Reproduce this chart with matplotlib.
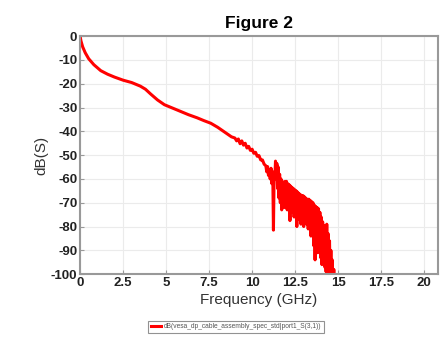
import matplotlib
matplotlib.use('Agg')
import matplotlib.pyplot as plt

# Smooth part of the S(3,1) trace (GHz, dB)
freq_smooth = [0, 0.05, 0.15, 0.3, 0.5, 0.8, 1.2, 1.6, 2.0, 2.5, 3.0, 3.5, 3.8,
               4.1, 4.5, 4.9, 5.3, 5.8, 6.3, 6.8, 7.2, 7.6, 8.0, 8.4, 8.8, 9.0,
               9.1, 9.2, 9.3, 9.4, 9.5, 9.6, 9.7, 9.8, 9.9, 10.0, 10.1, 10.2,
               10.3, 10.4, 10.5, 10.6, 10.7]
db_smooth = [0, -2, -4.5, -7, -9.5, -12, -14.5, -16, -17.2, -18.5, -19.5, -21,
             -22.3, -24.3, -26.8, -28.8, -30, -31.5, -33, -34.3, -35.5, -36.6,
             -38.3, -40.3, -42.3, -42.8, -44.0, -43.2, -45.2, -44.0, -45.8,
             -45.0, -47.0, -46.3, -48.0, -47.5, -49.2, -48.8, -50.5, -50.2,
             -52.0, -52.0, -53.8]

# Resonant, noisy part above ~10.8 GHz
freq_noisy = [10.80, 10.85, 10.90, 10.95, 11.00, 11.05, 11.10, 11.15, 11.20,
              11.24, 11.28, 11.32, 11.36, 11.40, 11.44, 11.48, 11.52, 11.56,
              11.60, 11.64, 11.68, 11.72, 11.76, 11.80, 11.84, 11.88, 11.92,
              11.96, 12.00, 12.04, 12.08, 12.12, 12.16, 12.20, 12.24, 12.28,
              12.32, 12.36, 12.40, 12.44, 12.48, 12.52, 12.56, 12.60, 12.64,
              12.68, 12.72, 12.76, 12.80, 12.84, 12.88, 12.92, 12.96, 13.00,
              13.04, 13.08, 13.12, 13.18, 13.22, 13.26, 13.30, 13.34, 13.38,
              13.42, 13.46, 13.50, 13.54, 13.58, 13.62, 13.66, 13.70, 13.74,
              13.78, 13.82, 13.86, 13.90, 13.94, 13.98, 14.02, 14.06, 14.10,
              14.14, 14.18, 14.22, 14.26, 14.30, 14.34, 14.38, 14.42, 14.46,
              14.50, 14.54, 14.58, 14.62, 14.66, 14.70, 14.75, 14.80, 14.85]
db_noisy = [-54.5, -57.0, -54.8, -58.5, -56.0, -60.0, -55.5, -62.0, -57.0,
            -81.5, -58.0, -60.0, -52.5, -58.0, -53.5, -64.0, -55.0, -68.0,
            -58.0, -70.0, -60.0, -73.0, -61.0, -70.0, -61.5, -72.0, -61.0,
            -71.0, -61.0, -73.0, -62.0, -72.0, -62.5, -77.5, -63.0, -74.0,
            -63.5, -73.0, -64.0, -76.0, -64.5, -75.0, -65.0, -80.0, -65.5,
            -77.0, -66.0, -76.0, -66.5, -79.0, -67.0, -77.0, -67.0, -80.0,
            -67.5, -78.0, -68.0, -79.0, -68.5, -81.0, -68.5, -79.0, -69.0,
            -84.0, -69.5, -83.0, -70.0, -88.0, -71.0, -94.0, -71.5, -88.0,
            -72.0, -91.0, -72.5, -89.0, -74.0, -93.0, -76.0, -96.0, -78.0,
            -94.0, -79.5, -97.0, -80.0, -99.0, -79.0, -101.0, -83.0, -101.0,
            -86.0, -102.0, -90.0, -103.0, -94.0, -104.0, -98.0, -106.0, -105.0]

freq = freq_smooth + freq_noisy
db = db_smooth + db_noisy

x_ticks = [0, 2.5, 5, 7.5, 10, 12.5, 15, 17.5, 20]
x_labels = ['0', '2.5', '5', '7.5', '10', '12.5', '15', '17.5', '20']
y_ticks = list(range(0, -101, -10))

plt.rcParams['font.family'] = ['Liberation Sans', 'DejaVu Sans']
plt.rcParams['axes.unicode_minus'] = False
plt.rcParams['path.simplify'] = False

fig = plt.figure(figsize=(4.45, 3.41), dpi=100)
ax = fig.add_axes([0.180, 0.196, 0.804, 0.698])

line, = ax.plot(freq, db, color='#ff0000', linewidth=2.2,
                label='dB(vesa_dp_cable_assembly_spec_std|port1_S(3,1))')

ax.set_xlim(0, 20.8)
ax.set_ylim(-100, 0)
ax.set_xticks(x_ticks)
ax.set_xticklabels(x_labels)
ax.set_yticks(y_ticks)
ax.grid(True, color='#ebebeb', linewidth=0.8)
ax.set_axisbelow(True)
ax.tick_params(direction='in', length=3, color='#999999', labelsize=9.5,
               labelcolor='#222222', pad=2)
for lbl in ax.get_xticklabels() + ax.get_yticklabels():
    lbl.set_fontweight('semibold')
for sp in ax.spines.values():
    sp.set_color('#999999')
    sp.set_linewidth(1.5)

ax.set_title('Figure 2', fontsize=12.5, fontweight='bold', pad=6)
ax.set_xlabel('Frequency (GHz)', fontsize=11, color='#333333', labelpad=3)
ax.set_ylabel('dB(S)', fontsize=11, color='#333333', labelpad=2)

leg = fig.legend(handles=[line], loc='center', bbox_to_anchor=(0.531, 0.042),
                 fontsize=4.8, frameon=True, fancybox=False, handlelength=1.5,
                 borderpad=0.4, handletextpad=0.5)
leg.get_frame().set_edgecolor('#777777')
leg.get_frame().set_linewidth(0.8)
for t in leg.get_texts():
    t.set_color('#555555')

fig.savefig('out.png', dpi=100)
